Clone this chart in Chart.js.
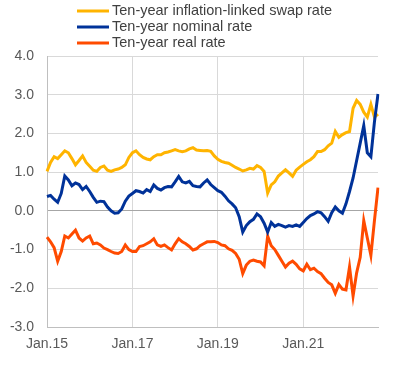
<!DOCTYPE html>
<html>
<head>
<meta charset="utf-8">
<script src="https://cdn.jsdelivr.net/npm/chart.js@4.4.1/dist/chart.umd.min.js"></script>
<style>
  body { margin: 0; background: #fff; }
  #wrap { width: 406px; height: 365px; }
</style>
</head>
<body>
<div id="wrap"><canvas id="myChart" width="406" height="365"></canvas></div>
<script>
// monthly observations, Jan 2015 - Oct 2022
const monthNames = ["Jan", "Feb", "Mar", "Apr", "May", "Jun", "Jul", "Aug", "Sep", "Oct", "Nov", "Dec"];
const months = [];
for (let y = 15; y <= 22; y++) {
  for (let m = 0; m < 12; m++) {
    if (y === 22 && m > 9) break;
    months.push(monthNames[m] + "." + y);
  }
}

// labels shown on the x axis
const tickLabels = ["Jan.15", "Jan.17", "Jan.19", "Jan.21"];

const swapRate = [
  1.02, 1.25, 1.40, 1.35, 1.45, 1.55, 1.50, 1.35, 1.19, 1.30, 1.42, 1.25,
  1.15, 1.05, 1.02, 1.12, 1.16, 1.05, 1.02, 1.06, 1.08, 1.12, 1.19, 1.38,
  1.50, 1.55, 1.45, 1.38, 1.34, 1.32, 1.40, 1.45, 1.45, 1.50, 1.52, 1.55,
  1.58, 1.55, 1.53, 1.55, 1.60, 1.63, 1.57, 1.56, 1.55, 1.56, 1.54, 1.42,
  1.33, 1.28, 1.25, 1.23, 1.18, 1.12, 1.08, 1.03, 1.06, 1.10, 1.08, 1.17,
  1.12, 1.02, 0.46, 0.67, 0.75, 0.90, 0.98, 1.06, 0.98, 0.89, 1.05, 1.13,
  1.20, 1.27, 1.32, 1.40, 1.53, 1.53, 1.58, 1.68, 1.75, 2.05, 1.90, 1.97,
  2.02, 2.05, 2.65, 2.85, 2.75, 2.55, 2.42, 2.75, 2.42, 2.50
];

const nominalRate = [
  0.37, 0.40, 0.30, 0.22, 0.45, 0.90, 0.80, 0.65, 0.72, 0.68, 0.55, 0.63,
  0.50, 0.35, 0.22, 0.25, 0.24, 0.10, 0.00, -0.06, -0.05, 0.05, 0.25, 0.38,
  0.45, 0.52, 0.50, 0.46, 0.55, 0.50, 0.67, 0.58, 0.54, 0.60, 0.63, 0.62,
  0.75, 0.89, 0.75, 0.72, 0.76, 0.65, 0.63, 0.62, 0.72, 0.80, 0.68, 0.60,
  0.52, 0.48, 0.38, 0.26, 0.18, 0.08, -0.15, -0.55, -0.38, -0.28, -0.22, -0.08,
  -0.15, -0.32, -0.55, -0.30, -0.40, -0.35, -0.38, -0.42, -0.38, -0.40, -0.36, -0.40,
  -0.30, -0.20, -0.12, -0.08, -0.02, -0.05, -0.15, -0.27, -0.05, 0.10, 0.00, -0.06,
  0.18, 0.50, 0.85, 1.30, 1.75, 2.20, 1.50, 1.40, 2.30, 3.02
];

const realRate = [
  -0.68, -0.80, -0.95, -1.30, -1.05, -0.65, -0.70, -0.60, -0.50, -0.70, -0.78, -0.70,
  -0.65, -0.85, -0.83, -0.88, -0.96, -1.00, -1.05, -1.09, -1.10, -1.05, -0.88, -1.00,
  -1.05, -1.05, -0.92, -0.90, -0.85, -0.80, -0.72, -0.88, -0.92, -0.88, -0.95, -1.01,
  -0.85, -0.72, -0.80, -0.85, -0.92, -1.01, -0.98, -0.90, -0.85, -0.80, -0.80, -0.79,
  -0.82, -0.88, -0.90, -0.98, -1.02, -1.10, -1.25, -1.62, -1.40, -1.30, -1.27, -1.30,
  -1.32, -1.42, -0.65, -0.90, -1.00, -1.15, -1.30, -1.45, -1.35, -1.30, -1.38, -1.50,
  -1.55, -1.38, -1.52, -1.48, -1.57, -1.62, -1.74, -1.85, -1.91, -2.13, -1.90, -2.02,
  -2.04, -1.45, -2.20, -1.60, -1.20, -0.25, -0.70, -1.15, -0.25, 0.60
];

const fontFamily = "'Liberation Sans', Arial, sans-serif";

// legend drawn as a left-aligned column above the plot
const legendPlugin = {
  id: "columnLegend",
  afterDraw(chart) {
    const c = chart.ctx;
    c.save();
    c.font = "14.5px " + fontFamily;
    c.textBaseline = "middle";
    chart.data.datasets.forEach((ds, i) => {
      const y = 11 + i * 16;
      c.strokeStyle = ds.borderColor;
      c.lineWidth = 3;
      c.beginPath();
      c.moveTo(77, y);
      c.lineTo(109, y);
      c.stroke();
      c.fillStyle = "#404040";
      c.fillText(ds.label, 112, y);
    });
    c.restore();
  }
};

const ctx = document.getElementById("myChart").getContext("2d");
const chart = new Chart(ctx, {
  type: "line",
  data: {
    labels: months,
    datasets: [
      {
        label: "Ten-year inflation-linked swap rate",
        data: swapRate,
        borderColor: "#FFB400",
        order: 3
      },
      {
        label: "Ten-year nominal rate",
        data: nominalRate,
        borderColor: "#003299",
        order: 1
      },
      {
        label: "Ten-year real rate",
        data: realRate,
        borderColor: "#FF4B00",
        order: 2
      }
    ]
  },
  options: {
    responsive: false,
    animation: false,
    layout: { padding: { top: 56, right: 28, left: 0, bottom: 0 } },
    elements: {
      line: { borderWidth: 3, tension: 0 },
      point: { radius: 0 }
    },
    plugins: {
      legend: { display: false },
      tooltip: { enabled: false }
    },
    scales: {
      x: {
        offset: false,
        grid: {
          drawTicks: false,
          color: (c) => tickLabels.includes(months[c.index]) ? "#d9d9d9" : "rgba(0,0,0,0)"
        },
        border: { color: "#bfbfbf" },
        ticks: {
          autoSkip: false,
          maxRotation: 0,
          padding: 9,
          color: "#595959",
          font: { size: 14, family: fontFamily },
          callback: function (v, i) {
            const lab = months[i];
            return tickLabels.includes(lab) ? lab : "";
          }
        },
        afterFit: (scale) => { scale.height = 38; }
      },
      y: {
        min: -3,
        max: 4,
        grid: {
          drawTicks: false,
          color: (c) => c.tick.value === 0 ? "#a6a6a6" : "#d9d9d9"
        },
        border: { color: "#bfbfbf" },
        ticks: {
          stepSize: 1,
          padding: 13,
          color: "#595959",
          font: { size: 14, family: fontFamily },
          callback: (v) => v.toFixed(1)
        },
        afterFit: (scale) => { scale.width = 47; }
      }
    }
  },
  plugins: [legendPlugin]
});
</script>
</body>
</html>
